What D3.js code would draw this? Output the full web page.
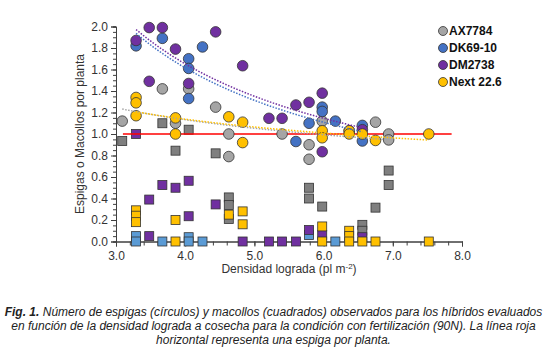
<!DOCTYPE html>
<html>
<head>
<meta charset="utf-8">
<script src="https://cdn.jsdelivr.net/npm/d3@7"></script>
<style>
  body { margin: 0; background: #fff; }
  svg { font-family: "Liberation Sans", Arial, sans-serif; }
</style>
</head>
<body>
<svg width="547" height="354"></svg>
<script>
var width = 547;
var height = 354;
var margin = {left: 116, right: 85, top: 26.5, bottom: 112.5};

// Hybrids (legend order)
var hybrids = ["AX7784", "DK69-10", "DM2738", "Next 22.6"];

// Espigas por planta (circles): [density, value]
var espigasAX = [[3.09,1.12],[3.67,1.42],[3.86,1.10],[4.05,1.42],[4.44,1.25],[4.63,1.00],[4.63,0.79],
  [5.40,1.00],[5.79,0.90],[5.79,0.765],[5.98,1.12],[6.37,1.03],[6.75,1.11],[6.94,1.00],[6.94,0.945]];
var espigasDK = [[3.29,1.82],[3.67,1.89],[4.05,1.70],[4.05,1.61],[4.05,1.33],[4.25,1.81],[5.60,0.93],
  [5.79,1.10],[5.98,1.25],[5.98,1.21],[6.17,1.12],[6.56,1.08],[6.56,0.935]];
var espigasDM = [[3.29,1.87],[3.48,1.99],[3.67,1.99],[3.86,1.79],[4.44,1.95],[3.48,1.49],[4.05,1.47],
  [4.83,1.635],[5.21,1.146],[5.40,1.146],[5.60,1.27],[5.79,1.295],[5.98,1.38],[5.98,0.835],[6.56,1.04]];
var espigasNext = [[3.29,1.34],[3.29,1.29],[3.29,1.17],[3.86,1.15],[3.86,1.00],[4.63,1.16],[4.83,1.11],
  [4.83,0.92],[5.98,1.03],[5.98,0.965],[6.37,1.03],[6.37,1.00],[6.56,1.00],[6.75,0.94],[7.52,1.00]];

// Macollos por planta (squares)
var macollosAX = [[3.09,0.935],[3.67,1.10],[4.05,1.04],[3.86,0.845],[4.44,0.82],[4.63,0.41],[4.63,0.34],
  [4.63,0.21],[5.79,0.50],[5.79,0.40],[5.98,0.325],[6.56,0.155],[6.56,0.10],[6.75,0.315],[6.94,0.66],[6.94,0.525]];
var macollosDK = [[3.29,0.05],[3.29,0.0],[3.67,0.0],[4.05,0.04],[4.05,0.0],[4.25,0.0],[5.79,0.06],[6.17,0.0]];
var macollosDM = [[3.29,1.00],[3.48,0.39],[3.48,0.05],[3.67,0.525],[3.86,0.50],[4.05,0.565],[4.05,0.235],
  [4.44,0.345],[4.83,0.0],[5.21,0.0],[5.40,0.0],[5.60,0.0],[5.79,0.107],[5.98,0.06],[6.56,0.04]];
var macollosNext = [[3.29,0.29],[3.29,0.24],[3.29,0.18],[3.86,0.20],[3.86,0.0],[4.63,0.25],[4.83,0.28],
  [4.83,0.16],[5.98,0.14],[5.98,0.0],[6.37,0.10],[6.37,0.05],[6.37,0.0],[6.56,0.0],[6.75,0.0],[7.52,0.0]];

var xTicks = [3, 4, 5, 6, 7, 8];
var yTicks = [0, 0.2, 0.4, 0.6, 0.8, 1.0, 1.2, 1.4, 1.6, 1.8, 2.0];
var refLine = {value: 1, from: 3.1, to: 7.85};

var circleColors = ["#a5a5a5", "#4472c4", "#7030a0", "#ffc000"];
var squareColors = ["#7f7f7f", "#5b9bd5", "#7030a0", "#ffc000"];

var espigas = [espigasAX, espigasDK, espigasDM, espigasNext];
var macollos = [macollosAX, macollosDK, macollosDM, macollosNext];

var svg = d3.select("svg");

var x = d3.scaleLinear().domain([3, 8]).range([margin.left, width - margin.right]);
var y = d3.scaleLinear().domain([0, 2]).range([height - margin.bottom, margin.top]);

//Axes with minor ticks first.

var axisColor = "#404040";

svg.append("g")
  .attr("transform", "translate(0," + y(0) + ")")
  .call(d3.axisBottom(x).tickValues(d3.range(3, 8.01, 0.2)).tickSize(4).tickFormat(""))
  .call(function (g) { g.selectAll("line, path").attr("stroke", axisColor); });

svg.append("g")
  .attr("transform", "translate(0," + y(0) + ")")
  .call(d3.axisBottom(x).tickValues(xTicks).tickSize(5).tickPadding(5).tickFormat(d3.format(".1f")))
  .call(function (g) {
    g.selectAll("line, path").attr("stroke", axisColor);
    g.selectAll("text").attr("fill", "#333").style("font-size", "12px");
  });

svg.append("g")
  .attr("transform", "translate(" + margin.left + ",0)")
  .call(d3.axisLeft(y).tickValues(d3.range(0, 2.001, 0.05)).tickSize(3).tickFormat(""))
  .call(function (g) { g.selectAll("line, path").attr("stroke", axisColor); });

svg.append("g")
  .attr("transform", "translate(" + margin.left + ",0)")
  .call(d3.axisLeft(y).tickValues(yTicks).tickSize(5).tickPadding(3).tickFormat(d3.format(".1f")))
  .call(function (g) {
    g.selectAll("line, path").attr("stroke", axisColor);
    g.selectAll("text").attr("fill", "#333").style("font-size", "12px");
  });

//Squares (macollos) below circles.

var sq = 9;
macollos.forEach(function (pts, i) {
  svg.append("g").selectAll("rect")
    .data(pts)
    .enter()
    .append("rect")
    .attr("x", function (d) { return x(d[0]) - sq / 2; })
    .attr("y", function (d) { return y(d[1]) - sq / 2; })
    .attr("width", sq)
    .attr("height", sq)
    .attr("fill", squareColors[i])
    .attr("stroke", "#333")
    .attr("stroke-width", 0.8);
});

// red reference line: one espiga per plant
svg.append("line")
  .attr("x1", x(refLine.from))
  .attr("x2", x(refLine.to))
  .attr("y1", y(refLine.value))
  .attr("y2", y(refLine.value))
  .attr("stroke", "#ff0000")
  .attr("stroke-width", 1.5);

espigas.forEach(function (pts, i) {
  svg.append("g").selectAll("circle")
    .data(pts)
    .enter()
    .append("circle")
    .attr("cx", function (d) { return x(d[0]); })
    .attr("cy", function (d) { return y(d[1]); })
    .attr("r", 5.3)
    .attr("fill", circleColors[i])
    .attr("stroke", "#333")
    .attr("stroke-width", 0.8);
});

//Power trendlines fitted to each espigas series (like Excel).

function powerFit(pts) {
  var lx = pts.map(function (d) { return Math.log(d[0]); });
  var ly = pts.map(function (d) { return Math.log(d[1]); });
  var mx = d3.mean(lx), my = d3.mean(ly);
  var b = d3.sum(lx, function (v, k) { return (v - mx) * (ly[k] - my); }) /
          d3.sum(lx, function (v) { return (v - mx) * (v - mx); });
  var a = Math.exp(my - b * mx);
  return function (v) { return a * Math.pow(v, b); };
}

var trendLine = d3.line()
  .x(function (d) { return x(d[0]); })
  .y(function (d) { return y(d[1]); });

espigas.forEach(function (pts, i) {
  var f = powerFit(pts);
  var ext = d3.extent(pts, function (d) { return d[0]; });
  var curve = d3.range(0, 41).map(function (k) {
    var v = ext[0] + (ext[1] - ext[0]) * k / 40;
    return [v, f(v)];
  });
  svg.append("path")
    .attr("d", trendLine(curve))
    .attr("fill", "none")
    .attr("stroke", circleColors[i])
    .attr("stroke-width", 1.5)
    .attr("stroke-dasharray", "1.5,1.5");
});

//Legend.

var legend = svg.append("g").attr("transform", "translate(443,31)");
hybrids.forEach(function (name, i) {
  var row = legend.append("g").attr("transform", "translate(0," + (i * 17) + ")");
  row.append("circle")
    .attr("r", 4.5)
    .attr("fill", circleColors[i])
    .attr("stroke", "#333")
    .attr("stroke-width", 0.8);
  row.append("text")
    .attr("x", 6)
    .attr("dy", "0.35em")
    .style("font-size", "12px")
    .style("font-weight", "bold")
    .attr("fill", "#111")
    .text(name);
});

// axis titles
svg.append("text")
  .attr("transform", "rotate(-90)")
  .attr("x", -(y(1)))
  .attr("y", 84)
  .style("text-anchor", "middle")
  .style("font-size", "12px")
  .attr("fill", "#333")
  .text("Espigas o Macollos por planta");

var xt = svg.append("text")
  .attr("x", x(5.5))
  .attr("y", 273)
  .style("text-anchor", "middle")
  .style("font-size", "12px")
  .attr("fill", "#333");
xt.append("tspan").text("Densidad lograda (pl m");
xt.append("tspan").attr("dy", -4).style("font-size", "8px").text("-2");
xt.append("tspan").attr("dy", 4).text(")");

// caption
var caption = svg.append("g")
  .style("font-size", "12px")
  .style("font-style", "italic")
  .attr("fill", "#222");
var c1 = caption.append("text").attr("x", width / 2).attr("y", 316).style("text-anchor", "middle");
c1.append("tspan").style("font-weight", "bold").text("Fig. 1.");
c1.append("tspan").text(" Número de espigas (círculos) y macollos (cuadrados) observados para los híbridos evaluados");
caption.append("text").attr("x", width / 2).attr("y", 330).style("text-anchor", "middle")
  .text("en función de la densidad lograda a cosecha para la condición con fertilización (90N). La línea roja");
caption.append("text").attr("x", width / 2).attr("y", 344).style("text-anchor", "middle")
  .text("horizontal representa una espiga por planta.");
</script>
</body>
</html>
